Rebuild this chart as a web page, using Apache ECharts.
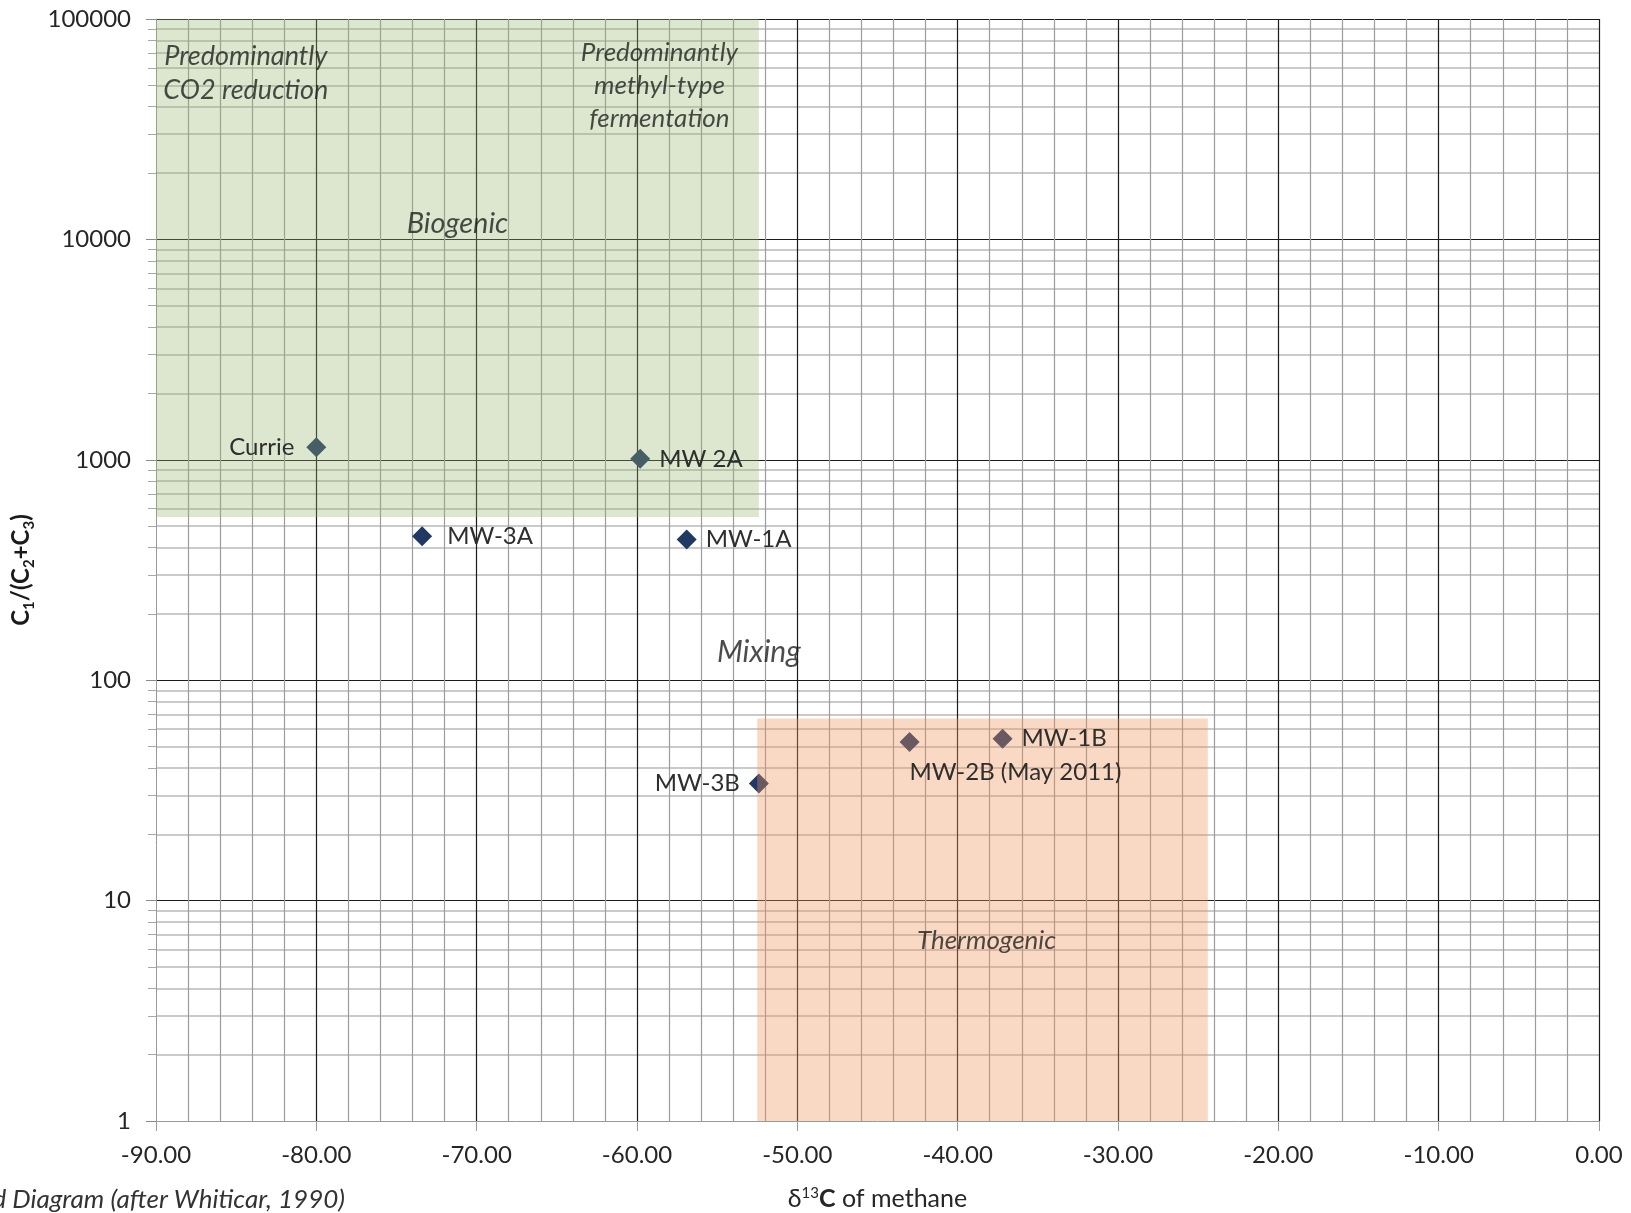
<!DOCTYPE html>
<html>
<head>
<meta charset="utf-8">
<script src="https://cdn.jsdelivr.net/npm/echarts@6/dist/echarts.min.js"></script>
<style>
  html, body { margin: 0; padding: 0; background: #ffffff; }
  #chart { width: 1631px; height: 1213px; }
</style>
</head>
<body>
<div id="chart"></div>
<script>
// Gas samples: δ13C of methane (‰) against C1/(C2+C3)
const sampleNames = ['Currie', 'MW 2A', 'MW-3A', 'MW-1A', 'MW-3B', 'MW-2B (May 2011)', 'MW-1B'];
const delta13C    = [-80.0, -59.8, -73.4, -56.9, -52.4, -43.0, -37.2];
const c1Ratio     = [1140, 1010, 450, 435, 34, 52.5, 54.3];

// Axis ticks
const xTickValues = [-90, -80, -70, -60, -50, -40, -30, -20, -10, 0];
const yTickValues = [1, 10, 100, 1000, 10000, 100000];

// Genetic fields (δ13C range, ratio range)
const biogenicField     = { x: [-90, -52.4], y: [550, 100000] };
const thermogenicField  = { x: [-52.5, -24.4], y: [1, 67] };

// Field annotations: text with its anchor in data space
const fieldNotes = [
  { text: 'Predominantly\nCO2 reduction', at: [-84.4, 57000], size: 27 },
  { text: 'Predominantly\nmethyl-type\nfermentation', at: [-58.6, 50000], size: 26 },
  { text: 'Biogenic', at: [-71.2, 11800], size: 29 },
  { text: 'Mixing', at: [-52.4, 134], size: 30 },
  { text: 'Thermogenic', at: [-38.2, 6.55], size: 26 }
];

// Where each sample's label sits relative to its marker
const labelPlacement = {
  'Currie':           { position: 'left',   distance: 12 },
  'MW 2A':            { position: 'right',  distance: 9 },
  'MW-3A':            { position: 'right',  distance: 15 },
  'MW-1A':            { position: 'right',  distance: 9 },
  'MW-3B':            { position: 'left',   distance: 9 },
  'MW-2B (May 2011)': { position: 'bottom', distance: 8, align: 'left' },
  'MW-1B':            { position: 'right',  distance: 9 }
};

const FONT = 'Lato, "Noto Sans", sans-serif';
const MAJOR = '#1c1c1c';
const MINOR_V = '#9c9c9c';
const MINOR_H = '#b9b9b9';
const MARKER_SIZE = 20;

const samplePoints = sampleNames.map((name, i) => ({
  name: name,
  value: [delta13C[i], c1Ratio[i]]
}));

// Same samples again, carrying only the text so it stays above the shaded fields
const sampleLabelPoints = sampleNames.map((name, i) => ({
  name: name,
  value: [delta13C[i], c1Ratio[i]],
  label: Object.assign({ show: true, formatter: '{b}' }, labelPlacement[name])
}));

const notePoints = fieldNotes.map(n => ({
  name: n.text,
  value: n.at,
  label: { fontSize: n.size, lineHeight: Math.round(n.size * 1.25) }
}));

const chart = echarts.init(document.getElementById('chart'), null, { renderer: 'canvas' });

chart.setOption({
  backgroundColor: '#ffffff',
  animation: false,
  grid: {
    left: 156, right: 32, top: 19, bottom: 92,
    containLabel: false,
    outerBoundsMode: 'none'
  },
  xAxis: {
    type: 'value',
    min: xTickValues[0],
    max: xTickValues[xTickValues.length - 1],
    interval: xTickValues[1] - xTickValues[0],
    name: '{d|δ}{sup|13}{b|C}{n| of methane}',
    nameLocation: 'middle',
    nameGap: 65,
    nameTextStyle: {
      rich: {
        d:   { fontFamily: FONT, fontSize: 25, color: '#262626' },
        sup: { fontFamily: FONT, fontSize: 15, color: '#262626', verticalAlign: 'top' },
        b:   { fontFamily: FONT, fontSize: 25, color: '#262626', fontWeight: 'bold' },
        n:   { fontFamily: FONT, fontSize: 25, color: '#262626' }
      }
    },
    axisLine: { show: true, onZero: false, lineStyle: { color: '#9a9a9a', width: 1 } },
    axisTick: { show: true, length: 10, lineStyle: { color: '#9a9a9a' } },
    axisLabel: {
      margin: 22,
      fontFamily: FONT, fontSize: 24, color: '#262626',
      formatter: v => v.toFixed(2)
    },
    splitLine: { show: true, showMinLine: false, lineStyle: { color: MAJOR, width: 1.2 } },
    minorTick: { show: false, splitNumber: 5 },
    minorSplitLine: { show: true, lineStyle: { color: MINOR_V, width: 1.2 } }
  },
  yAxis: {
    type: 'log',
    logBase: 10,
    min: yTickValues[0],
    max: yTickValues[yTickValues.length - 1],
    name: '{m|C}{s|1}{m|/(C}{s|2}{m|+C}{s|3}{m|)}',
    nameLocation: 'middle',
    nameGap: 111,
    nameTextStyle: {
      rich: {
        m: { fontFamily: FONT, fontSize: 24, fontWeight: 'bold', color: '#1a1a1a', lineHeight: 30, verticalAlign: 'middle' },
        s: { fontFamily: FONT, fontSize: 15, fontWeight: 'bold', color: '#1a1a1a', lineHeight: 30, verticalAlign: 'bottom' }
      }
    },
    axisLine: { show: true, onZero: false, lineStyle: { color: '#9a9a9a', width: 1 } },
    axisTick: { show: true, length: 10, lineStyle: { color: '#8a8a8a' } },
    minorTick: { show: true, splitNumber: 9, length: 8, lineStyle: { color: '#a8a8a8' } },
    axisLabel: {
      margin: 25, fontFamily: FONT, fontSize: 24, color: '#262626',
      formatter: v => String(v)
    },
    splitLine: { show: true, showMinLine: false, lineStyle: { color: MAJOR, width: 1.2 } },
    minorSplitLine: { show: true, lineStyle: { color: MINOR_H, width: 1.5 } }
  },
  series: [
    {
      name: 'Samples',
      type: 'scatter',
      z: 2,
      symbol: 'diamond',
      symbolSize: MARKER_SIZE,
      itemStyle: { color: '#1f3864', opacity: 1 },
      silent: true,
      data: samplePoints
    },
    {
      name: 'Fields',
      type: 'scatter',
      z: 3,
      data: [],
      markArea: {
        z: 3,
        silent: true,
        label: { show: false },
        data: [
          [
            { xAxis: biogenicField.x[0], yAxis: biogenicField.y[0], itemStyle: { color: 'rgba(150,178,104,0.32)' } },
            { xAxis: biogenicField.x[1], yAxis: biogenicField.y[1] }
          ],
          [
            { xAxis: thermogenicField.x[0], yAxis: thermogenicField.y[0], itemStyle: { color: 'rgba(238,150,88,0.36)' } },
            { xAxis: thermogenicField.x[1], yAxis: thermogenicField.y[1] }
          ]
        ]
      }
    },
    {
      name: 'Sample labels',
      type: 'scatter',
      z: 4,
      symbol: 'diamond',
      symbolSize: MARKER_SIZE,
      itemStyle: { color: 'rgba(0,0,0,0)', opacity: 1 },
      silent: true,
      label: { show: true, fontFamily: FONT, fontSize: 24, color: '#2e2e2e' },
      data: sampleLabelPoints
    },
    {
      name: 'Field notes',
      type: 'scatter',
      z: 4,
      symbolSize: 0,
      silent: true,
      label: {
        show: true,
        position: 'inside',
        formatter: '{b}',
        fontFamily: FONT,
        fontStyle: 'italic',
        color: '#1f1f1f',
        align: 'center',
        verticalAlign: 'middle'
      },
      data: notePoints
    }
  ],
  graphic: [
    {
      type: 'text',
      silent: true,
      style: {
        text: 'Bernard Diagram (after Whiticar, 1990)',
        x: 345, y: 1200,
        align: 'right', verticalAlign: 'middle',
        font: 'italic 26px ' + FONT,
        fill: '#333333'
      }
    }
  ]
});
</script>
</body>
</html>
